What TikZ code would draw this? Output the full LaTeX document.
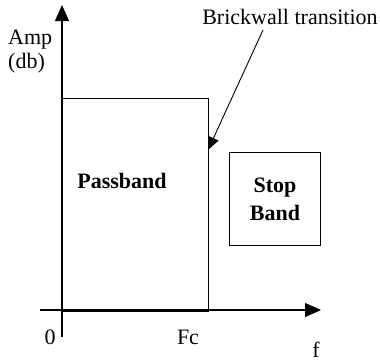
\documentclass[tikz,border=0pt]{standalone}
\usepackage{fontspec}
\setmainfont{Liberation Serif}
\usetikzlibrary{arrows.meta}
\begin{document}
\begin{tikzpicture}[x=1pt,y=-1pt,
  line/.style={line width=1.1pt},
  bigtip/.style={-{Triangle[length=16pt,width=14pt]}},
  lbl/.style={inner sep=0pt,font=\fontsize{22}{24}\selectfont},
  blbl/.style={inner sep=0pt,font=\fontsize{22}{28}\selectfont\bfseries,align=center}]
\useasboundingbox (0,0) rectangle (380,362);
% axes
\coordinate (ybot) at (62,337);
\coordinate (ytop) at (62,5);
\coordinate (xl) at (40,310);
\coordinate (xr) at (321,310);
\draw[line,bigtip] (ybot) -- (ytop);
\draw[line,bigtip] (xl) -- (xr);
% passband
\node[line,draw,minimum width=146pt,minimum height=213pt,anchor=north west,inner sep=0pt] (pass) at (62,98) {};
\node[blbl] (passlbl) at (122,181) {Passband};
% stop band
\node[line,draw,minimum width=91pt,minimum height=93pt,anchor=north west,inner sep=0pt,blbl] (stop) at (229,152) {Stop\\Band};
% labels
\node[lbl,align=left,anchor=north west] (amp) at (8,30) {Amp\\(db)};
\node[lbl] (bw) at (290,17) {Brickwall transition};
\node[lbl] (zero) at (50,337) {0};
\node[lbl] (fc) at (188,337) {Fc};
\node[lbl] (f) at (316,350) {f};
\coordinate (tip) at (208,150);
\draw[line width=0.9pt,-{Triangle[length=13pt,width=11pt]}] (263,30) -- (tip);
\end{tikzpicture}
\end{document}
